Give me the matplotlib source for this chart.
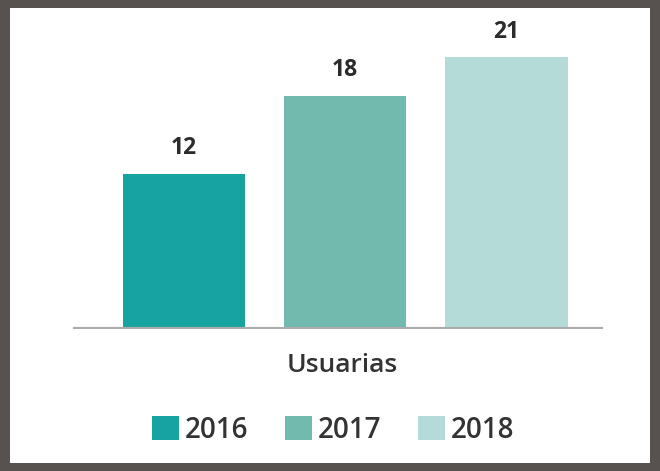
import matplotlib.pyplot as plt
from matplotlib.patches import Rectangle, Patch

# data
years = ['2016', '2017', '2018']
usuarias = [12, 18, 21]
colors = ['#17a3a0', '#72b9ae', '#b4dbd7']

plt.rcParams['font.family'] = ['Open Sans', 'DejaVu Sans']

fig = plt.figure(figsize=(6.6, 4.71), dpi=100, facecolor='#57524f')
# white card
fig.patches.append(Rectangle((10 / 660, 8 / 471), 640 / 660, 455 / 471,
                             transform=fig.transFigure, facecolor='white',
                             edgecolor='none', zorder=-1))

ax = fig.add_axes([73 / 660, 142 / 471, 530 / 660, 309 / 471])
ax.set_facecolor('none')
ax.set_zorder(2)

x = range(len(years))
bars = ax.bar(x, usuarias, width=0.76, color=colors, zorder=2)
ax.set_xlim(-0.69, 2.6)
ax.set_ylim(0, 23.9)

for b, v in zip(bars, usuarias):
    ax.annotate(str(v), (b.get_x() + b.get_width() / 2, v), xytext=(0, 10),
                textcoords='offset points', ha='center', va='bottom',
                fontsize=16.5, fontweight='bold', color='#2b2b2b')

ax.axhline(0, color='#acacac', linewidth=3, zorder=3)
for s in ax.spines.values():
    s.set_visible(False)
ax.set_xticks([])
ax.set_yticks([])

fig.text(342 / 660, (471 - 365) / 471, 'Usuarias', ha='center', va='center',
         fontsize=19, fontweight='semibold', color='#333333', zorder=3)

handles = [Patch(facecolor=c, edgecolor='none') for c in colors]
leg = fig.legend(handles, years, loc='center', bbox_to_anchor=(333 / 660, 41 / 471),
                 ncol=3, frameon=False, handlelength=1.0, handleheight=1.0,
                 handletextpad=0.2, columnspacing=1.3, labelcolor='#333333',
                 prop={'size': 20, 'weight': 'semibold'})
leg.set_zorder(3)

fig.savefig('out.png', dpi=100, facecolor=fig.get_facecolor())
